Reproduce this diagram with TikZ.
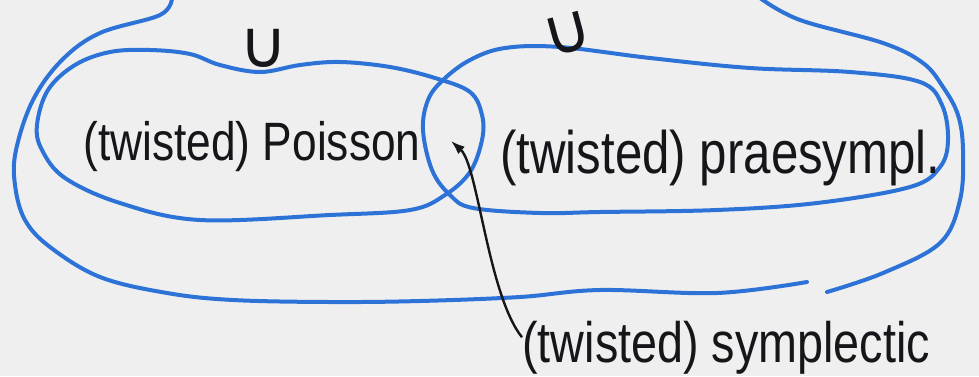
\documentclass[tikz,border=0pt]{standalone}
\usepackage{fontspec}
\setmainfont{Liberation Sans}[FakeStretch=0.82]
\newfontfamily\symfont{DejaVu Sans}
\usetikzlibrary{arrows.meta}

\definecolor{pen}{RGB}{45,115,215}
\definecolor{ink}{RGB}{22,22,26}
\definecolor{paper}{RGB}{239,239,239}

\begin{document}
\begin{tikzpicture}[
    x=0.5pt, y=-0.5pt,
    >={Latex[length=7pt,width=5pt]},
    blob/.style={
        draw=pen,
        line width=2pt,
        line cap=round,
        line join=round
    },
    hand/.style={
        text=ink,
        inner sep=0pt,
        anchor=base west,
        font=\fontsize{#1}{#1}\selectfont
    },
    hand/.default=28,
    incl/.style={
        text=ink,
        inner sep=0pt,
        font=\symfont\fontsize{33}{33}\selectfont
    },
    link/.style={
        ->,
        draw=ink,
        line width=1.2pt
    }
]

\fill[paper] (0,0) rectangle (979,376);
\useasboundingbox (0,0) rectangle (979,376);

% outer region, open at the top
\draw[blob] plot[smooth, tension=0.6] coordinates {
    (172,-2) (160,15) (100,33) (62,60) (33,100) (16,150) (15,185)
    (25,220) (50,247) (100,277) (167,293) (233,300) (330,302)
    (420,301) (520,297) (600,290) (717,293) (807,282)}
    plot[smooth, tension=0.6] coordinates {
    (827,292) (883,273) (940,243) (960,200) (963,150) (958,115)
    (943,87) (923,63) (883,43) (800,20) (760,-2)};

% Poisson region
\draw[blob] plot[smooth cycle, tension=0.6] coordinates {
    (37,125) (48,90) (75,65) (110,52) (150,50) (190,54) (220,65)
    (260,72) (300,65) (340,62) (390,67) (435,78) (470,92) (482,115)
    (482,140) (470,172) (445,195) (410,210) (330,215) (200,220)
    (120,203) (65,178) (42,150)};

% praesymplectic region
\draw[blob] plot[smooth cycle, tension=0.6] coordinates {
    (423,130) (428,100) (443,80) (470,60) (505,48) (560,47) (650,58)
    (750,68) (850,72) (920,82) (942,105) (948,140) (940,167) (910,187)
    (817,203) (717,210) (600,212) (540,213) (473,208) (450,195)
    (432,170)};

\node[hand=27] (poisson) at (83,160) {(twisted) Poisson};
\node[hand=30] (praesympl) at (500,173) {(twisted) praesympl.};
\node[hand=28.5] (symplectic) at (522,362) {(twisted) symplectic};

\node[incl] (cupleft) at (264,48) {∪};
\node[incl, rotate=15] (cupright) at (568,34) {∪};

\coordinate (meet) at (451,141);
\draw[link] ([yshift=5pt]symplectic.west) .. controls (488,295) and (478,165) .. (meet);

\end{tikzpicture}
\end{document}
